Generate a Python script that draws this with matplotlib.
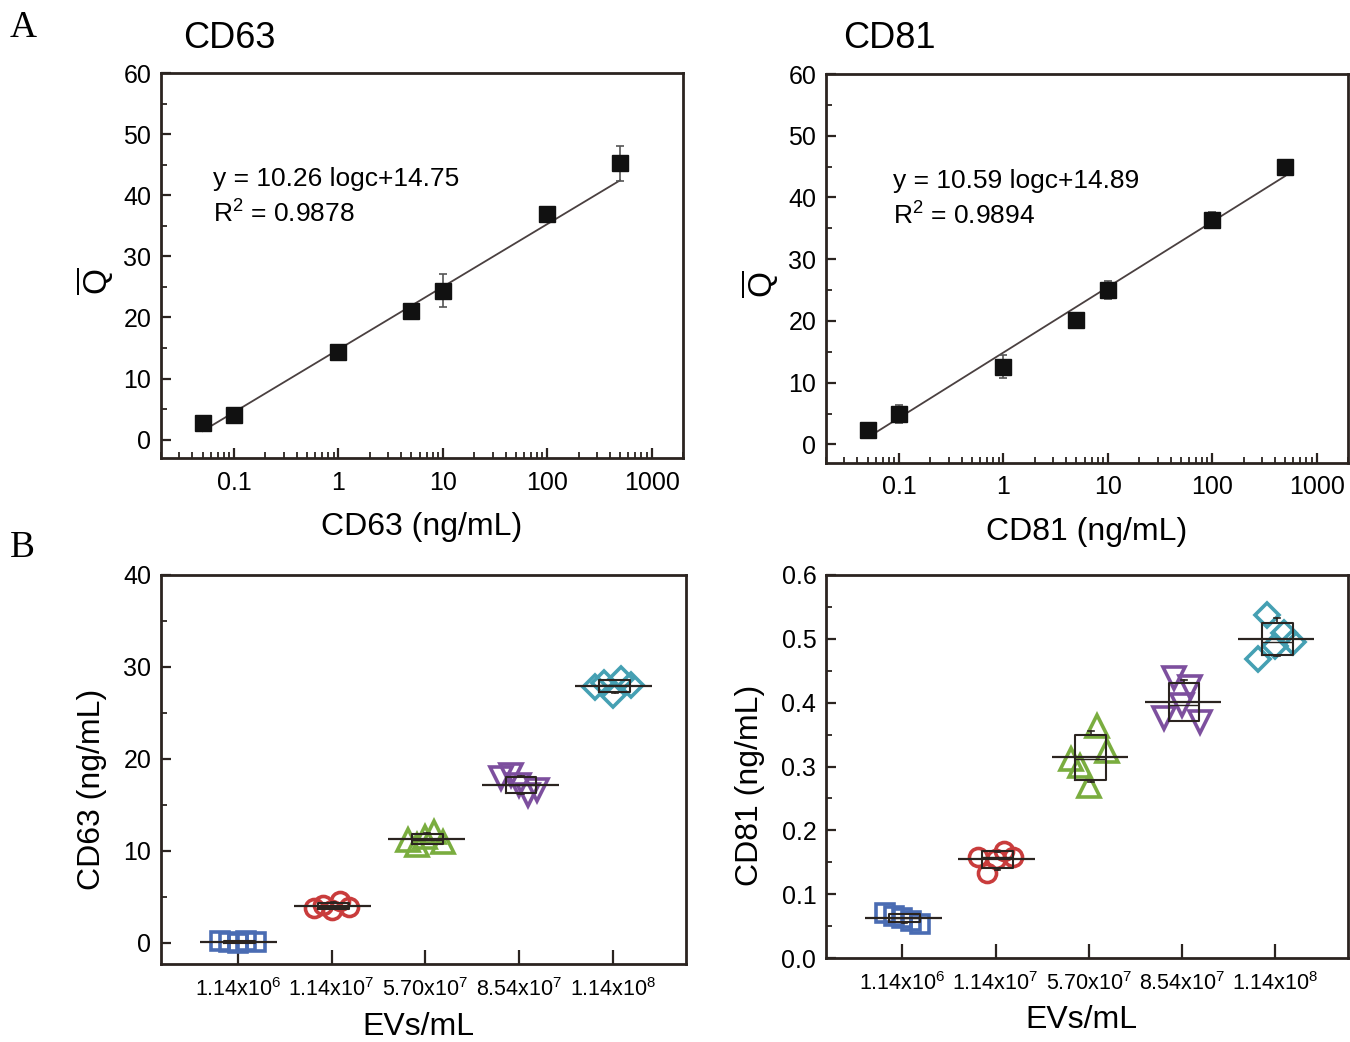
import numpy as np
import matplotlib
matplotlib.use("Agg")
import matplotlib.pyplot as plt
from matplotlib.ticker import MultipleLocator, LogLocator, NullFormatter, FixedLocator, FormatStrFormatter

plt.rcParams['font.family'] = 'Liberation Sans'
plt.rcParams['mathtext.fontset'] = 'custom'
plt.rcParams['mathtext.rm'] = 'Liberation Sans'
plt.rcParams['mathtext.it'] = 'Liberation Sans:italic'
plt.rcParams['mathtext.bf'] = 'Liberation Sans:bold'

# ---- data: calibration curves (panel A)
conc = [0.05, 0.1, 1, 5, 10, 100, 500]
cd63_q = [2.8, 4.0, 14.3, 21.0, 24.4, 37.0, 45.2]
cd63_err = [0.5, 0.6, 0.4, 0.6, 2.7, 0.8, 2.8]
cd81_q = [2.4, 4.9, 12.6, 20.1, 25.0, 36.4, 45.0]
cd81_err = [0.6, 1.5, 1.9, 0.8, 1.4, 1.3, 0.9]
cd63_fit = (10.26, 14.75, 0.9878)
cd81_fit = (10.59, 14.89, 0.9894)

# ---- data: EV samples (panel B)
ev_labels = [r'1.14x10$^{6}$', r'1.14x10$^{7}$', r'5.70x10$^{7}$', r'8.54x10$^{7}$', r'1.14x10$^{8}$']
cd63_ev = [
    [0.2, 0.1, 0.0, 0.15, 0.05],
    [3.8, 4.15, 3.6, 4.5, 3.95],
    [11.2, 10.65, 11.55, 12.1, 11.0],
    [17.9, 18.2, 17.15, 16.1, 16.6],
    [27.8, 28.3, 27.0, 28.7, 28.0],
]
cd81_ev = [
    [0.070, 0.066, 0.062, 0.058, 0.054],
    [0.159, 0.133, 0.155, 0.167, 0.158],
    [0.312, 0.301, 0.269, 0.364, 0.325],
    [0.376, 0.438, 0.396, 0.425, 0.370],
    [0.469, 0.538, 0.488, 0.509, 0.495],
]

colors = ['#4a6cb3', '#c93c3c', '#7aad3f', '#7d4f9e', '#45a0b3']
markers = ['s', 'o', '^', 'v', 'D']
msizes = [13, 13, 16, 16, 12]
jitter = [-0.19, -0.09, 0.0, 0.09, 0.19]
spine_c = '#2b2420'

fig = plt.figure(figsize=(13.5, 10.42), dpi=100)


def style_axes(ax):
    for s in ax.spines.values():
        s.set_linewidth(2.0)
        s.set_color(spine_c)
    ax.tick_params(which='both', direction='in', top=False, right=False, color=spine_c)
    ax.tick_params(which='major', length=7, width=1.6, labelsize=18, pad=7)
    ax.tick_params(which='minor', length=4, width=1.3)


def calib(ax, q, err, fit, xlab, title, tx, title_x):
    style_axes(ax)
    ax.set_xscale('log')
    ax.errorbar(conc, q, yerr=err, fmt='none', ecolor='#555555', elinewidth=1.2, capsize=3, capthick=1.2, zorder=2)
    xs = np.array([conc[0], conc[-1]])
    ax.plot(xs, fit[0] * np.log10(xs) + fit[1], color='#4a4040', lw=1.3, zorder=1)
    ax.plot(conc, q, 's', color='#111111', ms=11, zorder=3)
    ax.set_xlim(0.02, 2000)
    ax.set_ylim(-3, 60)
    ax.yaxis.set_major_locator(MultipleLocator(10))
    ax.yaxis.set_minor_locator(MultipleLocator(5))
    ax.xaxis.set_major_locator(FixedLocator([0.1, 1, 10, 100, 1000]))
    ax.xaxis.set_minor_locator(LogLocator(base=10, subs=np.arange(2, 10), numticks=20))
    ax.xaxis.set_minor_formatter(NullFormatter())
    ax.set_xticklabels(['0.1', '1', '10', '100', '1000'])
    ax.tick_params(axis='x', which='major', pad=9)
    ax.text(tx, 0.725, 'y = %.2f logc+%.2f' % (fit[0], fit[1]), transform=ax.transAxes,
            fontsize=19, va='center', ha='left')
    ax.text(tx, 0.635, r'R$^{2}$ = %.4f' % fit[2], transform=ax.transAxes,
            fontsize=19, va='center', ha='left')
    ax.text(0.5, -0.178, xlab, transform=ax.transAxes, fontsize=23, ha='center', va='center')
    ax.text(-0.128, 0.46, r'$\overline{\mathrm{Q}}$', transform=ax.transAxes, fontsize=24,
            ha='center', va='center', rotation=90)
    fig.text(title_x, 0.9635, title, fontsize=26, ha='left', va='center')


def evplot(ax, groups, ylab, ylim, major, minor, ylab_x):
    style_axes(ax)
    pos = np.arange(1, len(groups) + 1)
    for i, vals in enumerate(groups):
        ax.plot(pos[i] + np.array(jitter), vals, linestyle='none', marker=markers[i], ms=msizes[i],
                mfc='none', mec=colors[i], mew=2.6, zorder=2)
    stats = []
    for i, vals in enumerate(groups):
        v = np.array(vals)
        m, sd = v.mean(), v.std(ddof=1)
        stats.append(dict(med=np.median(v), q1=m - sd, q3=m + sd,
                          whislo=np.percentile(v, 5), whishi=np.percentile(v, 95), fliers=[]))
    ax.bxp(stats, positions=pos + 0.02, widths=0.33, showfliers=False, manage_ticks=False,
           boxprops=dict(color='#2b2420', lw=1.5), whiskerprops=dict(color='#2b2420', lw=1.2),
           capprops=dict(color='#2b2420', lw=1.2), medianprops=dict(color='#2b2420', lw=1.0),
           capwidths=0.06)
    means = [np.mean(v) for v in groups]
    ax.hlines(means, pos - 0.4, pos + 0.42, color='#2b2420', lw=1.6, zorder=3)
    ax.set_xlim(0.18, 5.78)
    ax.set_ylim(*ylim)
    ax.set_xticks(pos)
    ax.set_xticklabels(ev_labels, fontsize=15.5)
    ax.tick_params(axis='x', which='major', length=10, pad=10)
    ax.yaxis.set_major_locator(MultipleLocator(major))
    ax.yaxis.set_minor_locator(MultipleLocator(minor))
    ax.text(0.49, -0.162, 'EVs/mL', transform=ax.transAxes, fontsize=23, ha='center', va='center')
    ax.text(ylab_x, 0.45, ylab, transform=ax.transAxes, fontsize=23, ha='center', va='center', rotation=90)


ax1 = fig.add_axes([161 / 1350, 1 - 458 / 1042, 522 / 1350, 385 / 1042])
calib(ax1, cd63_q, cd63_err, cd63_fit, 'CD63 (ng/mL)', 'CD63', 0.10, 183 / 1350)

ax2 = fig.add_axes([826 / 1350, 1 - 463 / 1042, 522 / 1350, 389 / 1042])
calib(ax2, cd81_q, cd81_err, cd81_fit, 'CD81 (ng/mL)', 'CD81', 0.128, 843 / 1350)

ax3 = fig.add_axes([161 / 1350, 1 - 964 / 1042, 525 / 1350, 389 / 1042])
evplot(ax3, cd63_ev, 'CD63 (ng/mL)', (-2.3, 40), 10, 5, -0.131)
ax3.yaxis.set_major_formatter(FormatStrFormatter('%d'))

ax4 = fig.add_axes([826 / 1350, 1 - 958 / 1042, 522 / 1350, 383 / 1042])
evplot(ax4, cd81_ev, 'CD81 (ng/mL)', (0, 0.6), 0.1, 0.05, -0.146)
ax4.yaxis.set_major_formatter(FormatStrFormatter('%.1f'))

fig.text(10 / 1350, 1 - 28 / 1042, 'A', fontsize=27, family='Liberation Serif', ha='left', va='center')
fig.text(10 / 1350, 1 - 548 / 1042, 'B', fontsize=27, family='Liberation Serif', ha='left', va='center')

fig.savefig('out.png', dpi=100)
